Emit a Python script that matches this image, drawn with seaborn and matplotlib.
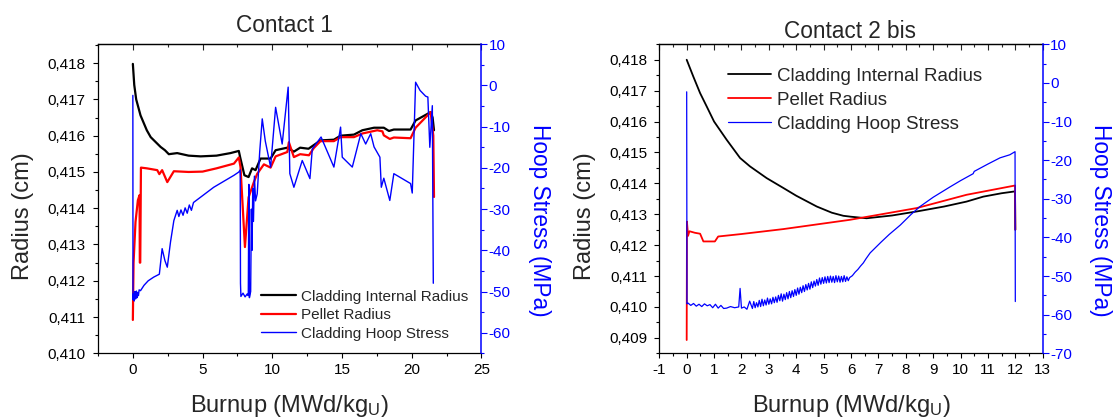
import matplotlib
matplotlib.use("Agg")
import matplotlib.pyplot as plt
import pandas as pd
import seaborn as sns
from matplotlib.ticker import MultipleLocator, FuncFormatter

# ---------------- Contact 1 ----------------
c1_clad_x = [0.0, 0.1, 0.24, 0.55, 1.0, 1.28, 1.99, 2.3, 2.58, 3.18, 4.0, 4.86, 6.0, 7.0, 7.6,
             7.7, 8.0, 8.3, 8.55, 8.8, 9.16, 9.88, 10.24, 11.08, 11.55, 12.0, 12.6, 13.46, 14.42,
             14.9, 15.86, 16.46, 17.3, 18.0, 18.37, 18.72, 19.92, 20.28, 21.36, 21.5, 21.6]
c1_clad_r = [0.41798, 0.4174, 0.4170, 0.41656, 0.41615, 0.41596, 0.41569, 0.41560, 0.41549, 0.41552,
             0.41545, 0.41543, 0.41545, 0.41552, 0.41558, 0.41540, 0.41491, 0.41486, 0.41510, 0.41505,
             0.41537, 0.41537, 0.41560, 0.41567, 0.41556, 0.41567, 0.41564, 0.41587, 0.41589, 0.41600,
             0.41603, 0.41615, 0.41622, 0.41622, 0.41613, 0.41617, 0.41617, 0.41642, 0.41665, 0.41650,
             0.41615]

c1_pellet_x = [0.0, 0.05, 0.19, 0.36, 0.48, 0.50, 0.53, 0.58, 1.0, 1.75, 1.9, 2.1, 2.47, 2.94, 4.0,
               5.0, 6.0, 7.25, 7.6, 7.72, 8.04, 8.3, 8.68, 8.92, 9.4, 9.88, 10.24, 11.08, 11.19, 11.55,
               12.0, 12.63, 12.98, 13.46, 14.42, 14.9, 15.86, 16.46, 17.53, 17.9, 18.0, 18.43, 18.72,
               19.92, 20.28, 21.36, 21.55, 21.6]
c1_pellet_r = [0.41092, 0.4125, 0.41362, 0.41422, 0.41436, 0.41250, 0.41250, 0.41512, 0.41510, 0.41505,
               0.41494, 0.41505, 0.41472, 0.41502, 0.41500, 0.41501, 0.41510, 0.41523, 0.41540, 0.41514,
               0.41293, 0.41430, 0.41472, 0.41495, 0.41521, 0.41512, 0.41543, 0.41555, 0.41582, 0.41541,
               0.41549, 0.41546, 0.41566, 0.41585, 0.41585, 0.41596, 0.41596, 0.41606, 0.41615, 0.41612,
               0.41601, 0.41591, 0.41595, 0.41593, 0.41622, 0.41665, 0.41600, 0.41431]

c1_stress_x = [0.0, 0.01, 0.05, 0.1, 0.15, 0.2, 0.25, 0.3, 0.35, 0.4, 0.45, 0.55, 0.8, 1.1, 1.5,
               1.9, 2.1, 2.3, 2.47, 2.7, 2.94, 3.18, 3.3, 3.45, 3.6, 3.75, 3.9, 4.05, 4.2, 4.35,
               4.86, 5.8, 6.5, 7.25, 7.6, 7.70, 7.72, 7.75, 7.9, 8.05, 8.2, 8.28, 8.32, 8.36, 8.45,
               8.5, 8.55, 8.6, 8.65, 8.72, 8.8, 8.92, 9.1, 9.28, 9.5, 9.88, 10.24, 10.71, 11.14,
               11.26, 11.55, 12.15, 12.7, 12.87, 13.5, 14.42, 14.9, 15.02, 15.74, 16.35, 16.7,
               17.06, 17.3, 17.72, 17.82, 18.0, 18.43, 18.72, 19.92, 20.04, 20.28, 20.6, 21.0,
               21.16, 21.3, 21.48, 21.55]
c1_stress = [-2.4, -52.0, -50.5, -52.3, -50.0, -51.8, -49.9, -51.5, -50.2, -51.0, -49.6, -49.8,
             -48.5, -47.4, -46.5, -45.8, -39.6, -42.5, -44.1, -38.0, -32.8, -30.3, -31.8, -30.2,
             -31.5, -29.7, -31.0, -29.0, -30.3, -28.4, -27.1, -24.7, -23.3, -21.8, -21.0, -20.5,
             -48.0, -51.2, -50.4, -51.3, -50.6, -51.0, -24.0, -51.5, -50.0, -30.0, -40.0, -25.0,
             -33.0, -22.0, -28.0, -26.3, -16.0, -8.1, -13.5, -19.8, -5.3, -14.2, -0.4, -21.4,
             -24.7, -18.2, -22.6, -15.4, -12.5, -19.8, -10.1, -17.4, -19.8, -11.7, -14.2, -11.7,
             -14.9, -17.4, -24.7, -22.5, -27.9, -21.4, -23.8, -26.1, 0.8, -1.2, -2.6, -2.8, -15.0,
             -4.9, -48.0]

# ---------------- Contact 2 bis ----------------
c2_clad_x = [0.0, 0.24, 0.49, 0.73, 1.0, 1.46, 1.95, 2.31, 2.92, 3.53, 4.0, 4.75, 5.3, 5.72, 6.0,
             6.57, 7.5, 8.4, 9.4, 10.22, 10.83, 11.5, 11.99, 12.0]
c2_clad_r = [0.41800, 0.41746, 0.41692, 0.41649, 0.41600, 0.41541, 0.41482, 0.41455, 0.41417, 0.41385,
             0.41360, 0.41325, 0.41305, 0.41295, 0.41292, 0.41287, 0.41296, 0.41309, 0.41325, 0.41341,
             0.41357, 0.41368, 0.41374, 0.41250]

c2_pellet_x = [0.0, 0.01, 0.05, 0.1, 0.3, 0.49, 0.61, 1.03, 1.15, 2.0, 3.53, 5.96, 8.4, 10.22, 11.99, 12.0]
c2_pellet_r = [0.40893, 0.41276, 0.41230, 0.41245, 0.41240, 0.41237, 0.41212, 0.41212, 0.41228, 0.41236,
               0.41252, 0.41282, 0.41320, 0.41363, 0.41393, 0.41250]

c2_stress_x = [0.0, 0.01, 0.05, 0.15, 0.25, 0.35, 0.45, 0.55, 0.65, 0.75, 0.85, 0.95, 1.05, 1.15,
               1.25, 1.35, 1.46, 1.6, 1.75, 1.9, 1.95, 2.0, 2.1, 2.2, 2.3,
               2.40, 2.45, 2.50, 2.55, 2.60, 2.65, 2.70, 2.75, 2.80, 2.85, 2.90, 2.95,
               3.00, 3.05, 3.10, 3.15, 3.20, 3.25, 3.30, 3.35, 3.40, 3.45, 3.50, 3.55,
               3.60, 3.65, 3.70, 3.75, 3.80, 3.85, 3.90, 3.95, 4.00, 4.05, 4.10, 4.15,
               4.20, 4.25, 4.30, 4.35, 4.40, 4.45, 4.50, 4.55, 4.60, 4.65, 4.70, 4.75,
               4.80, 4.85, 4.90, 4.95, 5.00, 5.05, 5.10, 5.15, 5.20, 5.25, 5.30, 5.35,
               5.40, 5.45, 5.50, 5.55, 5.60, 5.65, 5.70, 5.75, 5.80, 5.85, 5.90, 5.95,
               6.05, 6.15, 6.25, 6.35, 6.45, 6.55, 6.7, 6.9, 7.1, 7.4, 7.8, 8.2, 8.52,
               9.0, 9.62, 10.0, 10.46, 10.5, 11.0, 11.44, 11.8, 11.99, 12.0]
c2_stress = [-2.3, -57.2, -57.0, -57.6, -57.1, -57.8, -57.3, -57.9, -57.2, -57.7, -57.4, -58.2, -57.3,
             -58.3, -57.6, -58.4, -58.3, -57.9, -58.2, -58.0, -53.2, -58.3, -58.0, -58.6, -56.5,
             -58.4, -56.6, -58.2, -56.9, -58.0, -56.3, -57.9, -56.0, -57.7, -56.2, -57.5, -55.7,
             -57.3, -55.9, -57.2, -55.5, -56.9, -55.4, -56.8, -55.0, -56.4, -54.6, -56.5, -54.7,
             -56.1, -54.3, -55.9, -54.0, -55.6, -53.8, -55.3, -53.5, -55.0, -53.1, -54.7, -52.9,
             -54.3, -52.5, -54.0, -52.2, -53.6, -51.9, -53.4, -51.5, -53.0, -51.3, -52.6, -50.9,
             -52.4, -50.5, -52.1, -50.4, -51.9, -50.2, -51.8, -50.1, -51.7, -50.0, -51.6, -50.1,
             -51.7, -49.9, -51.5, -50.0, -51.6, -50.1, -51.5, -49.9, -51.4, -50.2, -51.2, -50.4,
             -49.9, -49.0, -48.3, -47.4, -46.6, -45.5, -44.0, -42.6, -41.2, -39.2, -36.8, -34.0, -32.0,
             -29.6, -26.9, -25.3, -23.5, -22.9, -21.0, -19.4, -18.6, -17.8, -56.6]

titles = ["Contact 1", "Contact 2 bis"]
series_labels = ["Cladding Internal Radius", "Pellet Radius", "Cladding Hoop Stress"]
xlabel = "Burnup (MWd/kg$_{\\mathrm{U}}$)"
ylabel_left = "Radius (cm)"
ylabel_right = "Hoop Stress (MPa)"

sns.set_style("ticks")
plt.rcParams["font.family"] = ["Liberation Sans", "DejaVu Sans"]
plt.rcParams["axes.unicode_minus"] = False
plt.rcParams["mathtext.fontset"] = "custom"
plt.rcParams["mathtext.rm"] = "Liberation Sans"
plt.rcParams["mathtext.it"] = "Liberation Sans:italic"

W, H = 1113, 419
fig = plt.figure(figsize=(W / 100, H / 100), dpi=100)
BLUE = "#0000ff"
RED = "#ff0000"


def comma_fmt(v, pos):
    return f"{v:.3f}".replace(".", ",")


def draw_panel(left_px, title, title_x, title_base, clad, pellet, stress,
               xlim, xmaj, xmin, rlim, slim, lw_thick, lw_thin,
               leg_anchor, leg_size, leg_spacing):
    ax = fig.add_axes([left_px / W, 1 - 353.3 / H, 383.4 / W, 309 / H])
    ax.set_facecolor("none")
    ax2 = ax.twinx()

    d_clad = pd.DataFrame({"burnup": clad[0], "radius": clad[1]})
    d_pel = pd.DataFrame({"burnup": pellet[0], "radius": pellet[1]})
    d_str = pd.DataFrame({"burnup": stress[0], "stress": stress[1]})

    sns.lineplot(data=d_clad, x="burnup", y="radius", ax=ax, color="black", lw=lw_thick,
                 sort=False, estimator=None, legend=False)
    sns.lineplot(data=d_pel, x="burnup", y="radius", ax=ax, color=RED, lw=lw_thick,
                 sort=False, estimator=None, legend=False)
    sns.lineplot(data=d_str, x="burnup", y="stress", ax=ax2, color=BLUE, lw=lw_thin,
                 sort=False, estimator=None, legend=False)

    ax.set_xlim(*xlim)
    ax.set_ylim(*rlim)
    ax2.set_ylim(*slim)

    ax.xaxis.set_major_locator(MultipleLocator(xmaj))
    ax.xaxis.set_minor_locator(MultipleLocator(xmin))
    ax.yaxis.set_major_locator(MultipleLocator(0.001))
    ax.yaxis.set_minor_locator(MultipleLocator(0.0005))
    ax.yaxis.set_major_formatter(FuncFormatter(comma_fmt))
    ax2.yaxis.set_major_locator(MultipleLocator(10))
    ax2.yaxis.set_minor_locator(MultipleLocator(5))

    ax.tick_params(axis="both", which="both", direction="out", width=0.8, colors="black",
                   labelsize=11, top=False, right=False)
    ax.tick_params(axis="both", which="major", length=3.8)
    ax.tick_params(axis="both", which="minor", length=2.2)
    ax.tick_params(axis="y", pad=5)
    ax.tick_params(axis="x", pad=3.5)
    ax2.tick_params(axis="y", which="both", direction="out", width=0.8, colors=BLUE,
                    labelsize=11, pad=1)
    ax2.tick_params(axis="y", which="major", length=4.2)
    ax2.tick_params(axis="y", which="minor", length=2.5)

    top = ax.secondary_xaxis("top")
    top.xaxis.set_major_locator(MultipleLocator(xmaj))
    top.xaxis.set_minor_locator(MultipleLocator(xmin))
    top.tick_params(axis="x", which="both", direction="in", width=0.8, labeltop=False)
    top.tick_params(axis="x", which="major", length=4.0)
    top.tick_params(axis="x", which="minor", length=2.2)

    for sp in ["left", "bottom", "top"]:
        ax.spines[sp].set_linewidth(0.9)
        ax.spines[sp].set_color("black")
    ax.spines["right"].set_visible(False)
    top.spines["top"].set_linewidth(0.9)
    ax2.spines["right"].set_color(BLUE)
    ax2.spines["right"].set_linewidth(1.1)
    for sp in ["left", "bottom", "top"]:
        ax2.spines[sp].set_visible(False)

    ax.set_xlabel(xlabel, fontsize=17)
    ax.xaxis.set_label_coords(0.5, -0.13)
    ax.set_ylabel(ylabel_left, fontsize=17)
    ax.yaxis.set_label_coords(-0.166, 0.444)
    ax2.set_ylabel(ylabel_right, fontsize=16.3, color=BLUE, rotation=270, va="center")
    ax2.yaxis.set_label_coords(1.152, 0.43)

    fig.text(title_x / W, 1 - title_base / H, title, fontsize=16.3, ha="center", va="baseline")

    handles = [ax.lines[0], ax.lines[1], ax2.lines[0]]
    ax2.legend(handles, series_labels, loc="upper left", bbox_to_anchor=leg_anchor,
               frameon=False, fontsize=leg_size, handlelength=2.3, handletextpad=0.3,
               labelspacing=leg_spacing, borderpad=0, borderaxespad=0)
    return ax, ax2


draw_panel(98, titles[0], 284, 32,
           (c1_clad_x, c1_clad_r), (c1_pellet_x, c1_pellet_r), (c1_stress_x, c1_stress),
           (-2.5, 25), 5, 2.5, (0.410, 0.41852), (-65, 10), 1.6, 1.0,
           (0.425, 0.206), 11, 0.3)

draw_panel(659.3, titles[1], 850, 38,
           (c2_clad_x, c2_clad_r), (c2_pellet_x, c2_pellet_r), (c2_stress_x, c2_stress),
           (-1, 13), 1, 0.5, (0.4085, 0.4185), (-70, 10), 1.3, 0.9,
           (0.179, 0.924), 13.5, 0.37)

fig.savefig("out.png", dpi=100)
